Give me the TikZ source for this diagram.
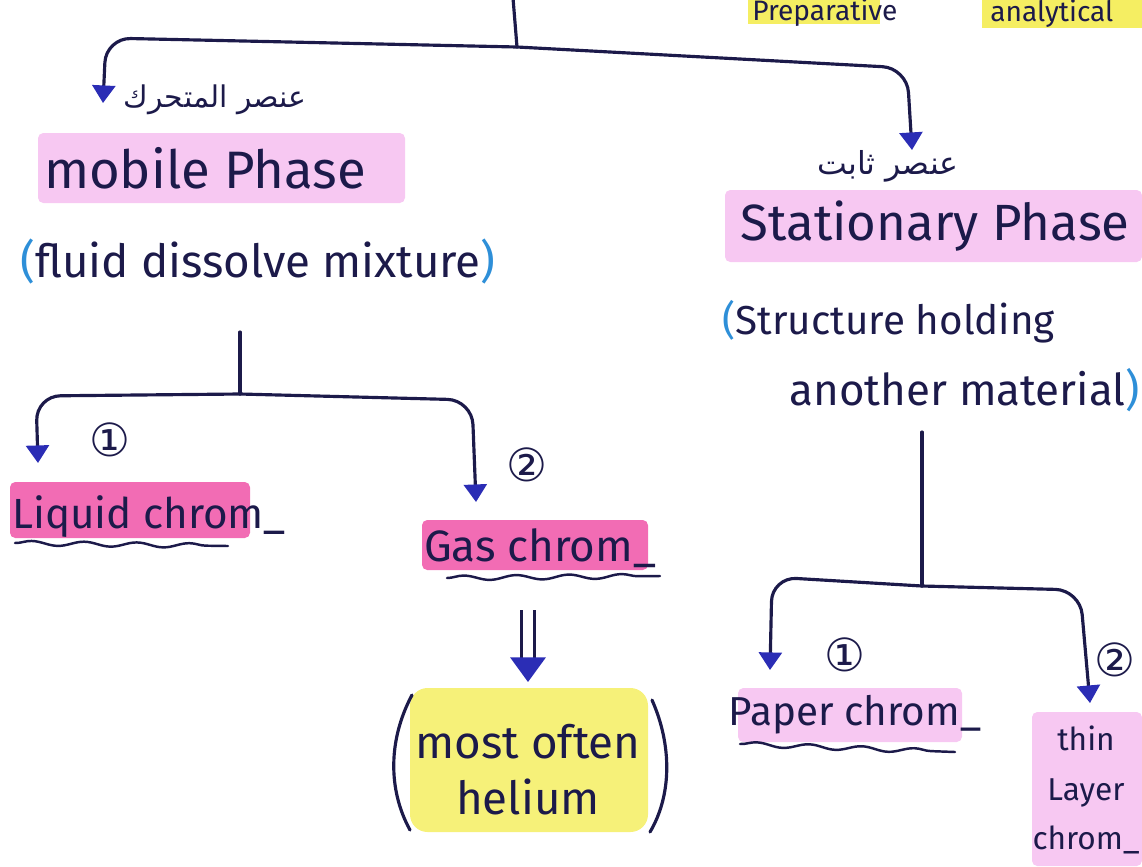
\documentclass[tikz,border=0pt]{standalone}
\usepackage{fontspec}
\setmainfont{Fira Sans}
\newfontfamily\arabicfont[Script=Arabic]{DejaVu Sans}
\newfontfamily\symfont{DejaVu Sans}
\TeXXeTstate=1
\usetikzlibrary{arrows.meta}
\usetikzlibrary{decorations.pathmorphing}
\definecolor{ink}{HTML}{1C1A4A}
\definecolor{tipblue}{HTML}{2B2DB5}
\definecolor{parblue}{HTML}{2E8FD8}
\definecolor{softpink}{HTML}{F7C8F2}
\definecolor{hotpink}{HTML}{F26CB4}
\definecolor{marker}{HTML}{F5EE62}
\newcommand\handsize[1]{\fontsize{#1}{#1}\selectfont}
\tikzset{
  link/.style={draw=ink,line width=1.8pt,line cap=round,rounded corners=14pt,
    -{Triangle[length=10pt,width=13pt,color=tipblue]}},
  stem/.style={draw=ink,line width=1.8pt,line cap=round},
  hand/.style={text=ink,inner sep=0pt},
  wave/.style={draw=ink,line width=1.4pt,line cap=round,decorate,
    decoration={snake,amplitude=1.3pt,segment length=30pt}},
  num/.style={text=ink,inner sep=0pt,font=\symfont\handsize{26}}
}
\begin{document}
\begin{tikzpicture}[x=0.02cm,y=-0.02cm]
\useasboundingbox (0,0) rectangle (1142,866);
\clip (0,0) rectangle (1142,866);
% highlighter
\fill[marker] (748,0) rectangle (880,24);
\fill[marker] (982,0) rectangle (1142,28);
\fill[softpink,rounded corners=3pt] (38,133) rectangle (405,203);
\fill[softpink,rounded corners=3pt] (725,190) rectangle (1142,262);
\fill[hotpink,rounded corners=3pt] (10,482) rectangle (250,538);
\fill[hotpink,rounded corners=3pt] (422,520) rectangle (648,570);
\fill[softpink,rounded corners=3pt] (738,688) rectangle (962,742);
\fill[softpink,rounded corners=3pt] (1032,712) rectangle (1142,866);
\fill[marker,opacity=.85,rounded corners=10pt] (410,688) rectangle (648,832);

% labels
\node[hand,font=\handsize{16},anchor=base west] (prep) at (752,20) {Preparative};
\node[hand,font=\handsize{16},anchor=base west] (anal) at (990,21) {analytical};
\node[hand,font=\arabicfont\handsize{17}] (mobar) at (215,100) {\beginR عنصر المتحرك\endR};
\node[hand,font=\handsize{30}] (mob) at (205,168) {mobile Phase};
\node[hand,font=\handsize{26}] (mobdesc) at (258,262)
  {\textcolor{parblue}{(}fluid dissolve mixture\textcolor{parblue}{)}};
\node[hand,font=\arabicfont\handsize{18}] (statar) at (888,166) {\beginR عنصر ثابت\endR};
\node[hand,font=\handsize{29}] (stat) at (935,226) {Stationary Phase};
\node[hand,font=\handsize{23},anchor=west] (statdesc1) at (722,322)
  {\textcolor{parblue}{(}Structure holding};
\node[hand,font=\handsize{25},anchor=east] (statdesc2) at (1140,390)
  {another material\textcolor{parblue}{)}};
\node[hand,font=\handsize{24},anchor=base west] (liq) at (12,528) {Liquid chrom\_};
\node[hand,font=\handsize{25}] (gas) at (540,548) {Gas chrom\_};
\node[hand,font=\handsize{26},align=center] (hel) at (528,770) {most often\\[6pt]helium};
\node[hand,font=\handsize{23}] (pap) at (855,715) {Paper chrom\_};
\node[hand,font=\handsize{18},align=center] (thin) at (1086,790)
  {thin\\[10pt]Layer\\[10pt]chrom\_};
\foreach \name/\pos/\num in {a/{(110,440)}/①, b/{(527,465)}/②,
  c/{(845,655)}/①, d/{(1115,660)}/②}
  \node[num] (n\name) at \pos {\num};

% helium brackets
\draw[stem] (412,695) .. controls (388,740) and (388,790) .. (410,830);
\draw[stem] (652,700) .. controls (672,745) and (672,795) .. (650,832);

% wavy underlines
\draw[wave] (15,543) -- (228,546);
\draw[wave] (447,578) -- (660,576);
\draw[wave] (740,744) -- (955,752);

% connectors
\coordinate (top) at (513,-2);
\coordinate (split) at (517,47);
\coordinate (mobtip) at (103,103);
\coordinate (stattip) at (912,150);
\draw[stem] (top) -- (split);
\draw[link] (split) -- (106,38) -- (mobtip);
\draw[link] (split) -- (907,68) -- (stattip);

\coordinate (mobstem) at (240,332);
\coordinate (mobsplit) at (240,394);
\coordinate (liqtip) at (38,463);
\coordinate (gastip) at (476,502);
\draw[stem] (mobstem) -- (mobsplit);
\draw[link] (mobsplit) -- (36,396) -- (liqtip);
\draw[link] (mobsplit) -- (472,400) -- (gastip);

\coordinate (statstem) at (922,432);
\coordinate (statsplit) at (922,586);
\coordinate (paptip) at (770,670);
\coordinate (thintip) at (1090,703);
\draw[stem] (statstem) -- (statsplit);
\draw[link] (statsplit) -- (772,577) -- (paptip);
\draw[link] (statsplit) -- (1080,590) -- (thintip);

% double arrow to helium
\coordinate (dbltop) at (528,610);
\coordinate (dbltip) at (528,682);
\draw[draw=ink,line width=1.6pt,double=white,double distance=6pt,
  -{Triangle[length=14pt,width=20pt,color=tipblue]}] (dbltop) -- (dbltip);
\end{tikzpicture}
\end{document}
